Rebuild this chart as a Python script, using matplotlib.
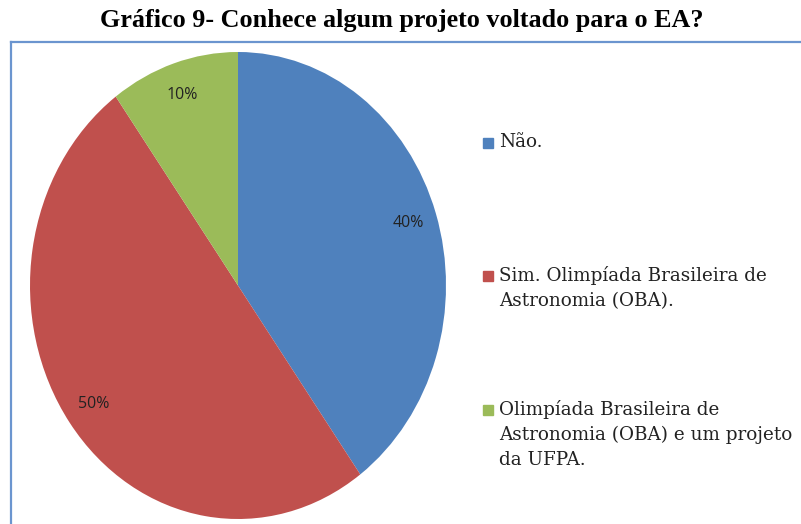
import matplotlib
matplotlib.use("Agg")
import matplotlib.pyplot as plt
from matplotlib.patches import Rectangle
from matplotlib.lines import Line2D

title = "Gráfico 9- Conhece algum projeto voltado para o EA?"
categories = ["Não.",
              "Sim. Olimpíada Brasileira de\nAstronomia (OBA).",
              "Olimpíada Brasileira de\nAstronomia (OBA) e um projeto\nda UFPA."]
values = [40, 50, 10]
colors = ["#4F81BD", "#C0504D", "#9BBB59"]

W, H = 801, 524
fig = plt.figure(figsize=(W / 100, H / 100), dpi=100)
fig.patch.set_facecolor("white")

# Frame (top and left borders visible)
frame_color = "#6B95CF"
fig.add_artist(Line2D([11 / W, 1.0], [1 - 42 / H, 1 - 42 / H], color=frame_color, lw=1.6,
                      transform=fig.transFigure))
fig.add_artist(Line2D([11 / W, 11 / W], [1 - 42 / H, 0], color=frame_color, lw=1.6,
                      transform=fig.transFigure))

fig.text(402 / W, 1 - 21 / H, title, ha="center", va="center",
         fontsize=18.8, fontweight="bold", family="Liberation Serif")

# Pie drawn as ellipse
ax = fig.add_axes([30 / W, 1 - 519 / H, 416 / W, 467 / H])
wedges, texts, autotexts = ax.pie(values, colors=colors, startangle=90, counterclock=False,
                                  autopct="%d%%", pctdistance=0.86,
                                  textprops=dict(fontsize=11.5, family="Open Sans", color="#222222"),
                                  wedgeprops=dict(linewidth=0))
ax.set_aspect("auto")
ax.set_xlim(-1, 1)
ax.set_ylim(-1, 1)
ax.axis("off")

# Legend
entry_y = [143, 276, 410]
for cat, col, y in zip(categories, colors, entry_y):
    fig.add_artist(Rectangle((483 / W, 1 - (y + 5) / H), 10 / W, 10 / H, color=col,
                             transform=fig.transFigure))
    fig.text(499 / W, 1 - (y - 10) / H, cat, ha="left", va="top", fontsize=13.2,
             family="DejaVu Serif", color="#222222", linespacing=1.5)

fig.savefig("out.png", dpi=100)
